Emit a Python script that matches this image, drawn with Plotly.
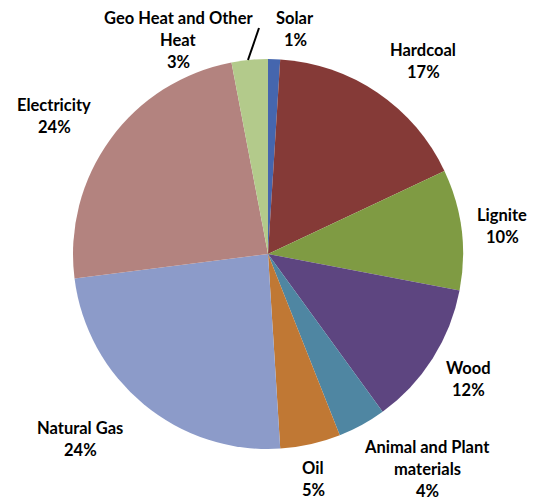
import plotly.graph_objects as go

categories = ["Solar", "Hardcoal", "Lignite", "Wood", "Animal and Plant materials",
              "Oil", "Natural Gas", "Electricity", "Geo Heat and Other Heat"]
values = [1, 17, 10, 12, 4, 5, 24, 24, 3]
colors = ["#4566AE", "#853A37", "#7F9B43", "#5D4580", "#4F86A2",
          "#C07834", "#8C9BC9", "#B3837F", "#B3CA8B"]

# label text lines and their centre positions (page pixels)
label_lines = {
    "Solar": ["Solar", "1%"],
    "Hardcoal": ["Hardcoal", "17%"],
    "Lignite": ["Lignite", "10%"],
    "Wood": ["Wood", "12%"],
    "Animal and Plant materials": ["Animal and Plant", "materials", "4%"],
    "Oil": ["Oil", "5%"],
    "Natural Gas": ["Natural Gas", "24%"],
    "Electricity": ["Electricity", "24%"],
    "Geo Heat and Other Heat": ["Geo Heat and Other", "Heat", "3%"],
}
label_pos = {
    "Solar": (295, 18),
    "Hardcoal": (423, 50),
    "Lignite": (502, 215),
    "Wood": (468, 368),
    "Animal and Plant materials": (427, 447),
    "Oil": (313, 468),
    "Natural Gas": (80, 428),
    "Electricity": (54, 105),
    "Geo Heat and Other Heat": (178, 18),
}

OFF = 8  # page body margin
W, H = 537 - OFF, 500 - OFF
cx, cy, r = 268 - OFF, 254 - OFF, 195


def px(x):
    return (x - OFF) / W


def py(y):
    return 1 - (y - OFF) / H


fig = go.Figure(go.Pie(
    labels=categories, values=values, sort=False, direction="clockwise",
    rotation=0, textinfo="none", hoverinfo="label+percent",
    marker=dict(colors=colors, line=dict(width=0)),
    domain=dict(x=[(cx - r) / W, (cx + r) / W], y=[1 - (cy + r) / H, 1 - (cy - r) / H]),
    showlegend=False,
))

LH = 22
annotations = []
for cat in categories:
    x0, y0 = label_pos[cat]
    for i, line in enumerate(label_lines[cat]):
        annotations.append(dict(
            x=px(x0), y=py(y0 + i * LH), xref="paper", yref="paper",
            text="<b>" + line + "</b>", showarrow=False, xanchor="center", yanchor="middle",
            font=dict(family="Lato", size=16.5, color="#000000"),
        ))

fig.update_layout(
    width=W, height=H, margin=dict(l=0, r=0, t=0, b=0),
    paper_bgcolor="white", plot_bgcolor="white",
    annotations=annotations,
    shapes=[dict(type="line", xref="paper", yref="paper",
                 x0=px(259), y0=py(28), x1=px(248), y1=py(60),
                 line=dict(color="black", width=2))],
)

fig.write_html("out.html")
